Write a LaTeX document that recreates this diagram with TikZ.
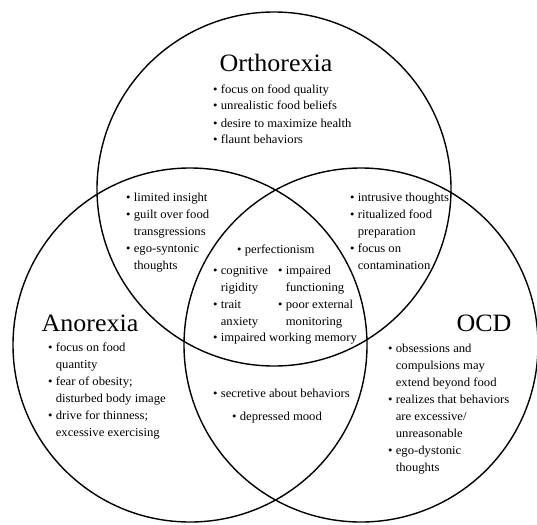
\documentclass[tikz,border=0pt]{standalone}
\usepackage{fontspec}
\setmainfont[FakeStretch=1.04]{Liberation Serif}
\begin{document}
\begin{tikzpicture}[x=1pt,y=-1pt,
  circ/.style={circle,draw,line width=1.4pt,minimum size=354pt,inner sep=0pt},
  title/.style={font=\fontsize{25}{30}\selectfont,inner sep=0pt},
  lst/.style={anchor=base west,inner sep=0pt,font=\fontsize{12.2}{17}\selectfont}]
\useasboundingbox (0,0) rectangle (537,524);
\node[circ] (ortho) at (274,189) {};
\node[circ] (anor) at (190,345) {};
\node[circ] (ocd) at (361,345) {};
\node[title] (tortho) at (276,63) {Orthorexia};
\node[title] (tanor) at (90,323) {Anorexia};
\node[title] (tocd) at (484,323) {OCD};
\node[lst] (lortho) at (213,93) {\begin{tabular}[t]{@{}l@{ }l@{}}
• & focus on food quality\\
• & unrealistic food beliefs\\
• & desire to maximize health\\
• & flaunt behaviors\end{tabular}};
\node[lst] (loa) at (126,201) {\begin{tabular}[t]{@{}l@{ }l@{}}
• & limited insight\\
• & guilt over food\\
  & transgressions\\
• & ego-syntonic\\
  & thoughts\end{tabular}};
\node[lst] (loo) at (350,201) {\begin{tabular}[t]{@{}l@{ }l@{}}
• & intrusive thoughts\\
• & ritualized food\\
  & preparation\\
• & focus on\\
  & contamination\end{tabular}};
\node[lst] (lperf) at (237,253) {• perfectionism};
\node[lst] (lc1) at (213,274) {\begin{tabular}[t]{@{}l@{ }l@{}}
• & cognitive\\
  & rigidity\\
• & trait\\
  & anxiety\end{tabular}};
\node[lst] (lc2) at (278,274) {\begin{tabular}[t]{@{}l@{ }l@{}}
• & impaired\\
  & functioning\\
• & poor external\\
  & monitoring\end{tabular}};
\node[lst] (lwm) at (213,341) {• impaired working memory};
\node[lst] (lanor) at (48,351) {\begin{tabular}[t]{@{}l@{ }l@{}}
• & focus on food\\
  & quantity\\
• & fear of obesity;\\
  & disturbed body image\\
• & drive for thinness;\\
  & excessive exercising\end{tabular}};
\node[lst] (lsec) at (213,397) {• secretive about behaviors};
\node[lst] (ldep) at (232,420) {• depressed mood};
\node[lst] (locd) at (388,352) {\begin{tabular}[t]{@{}l@{ }l@{}}
• & obsessions and\\
  & compulsions may\\
  & extend beyond food\\
• & realizes that behaviors\\
  & are excessive/\\
  & unreasonable\\
• & ego-dystonic\\
  & thoughts\end{tabular}};
\end{tikzpicture}
\end{document}
